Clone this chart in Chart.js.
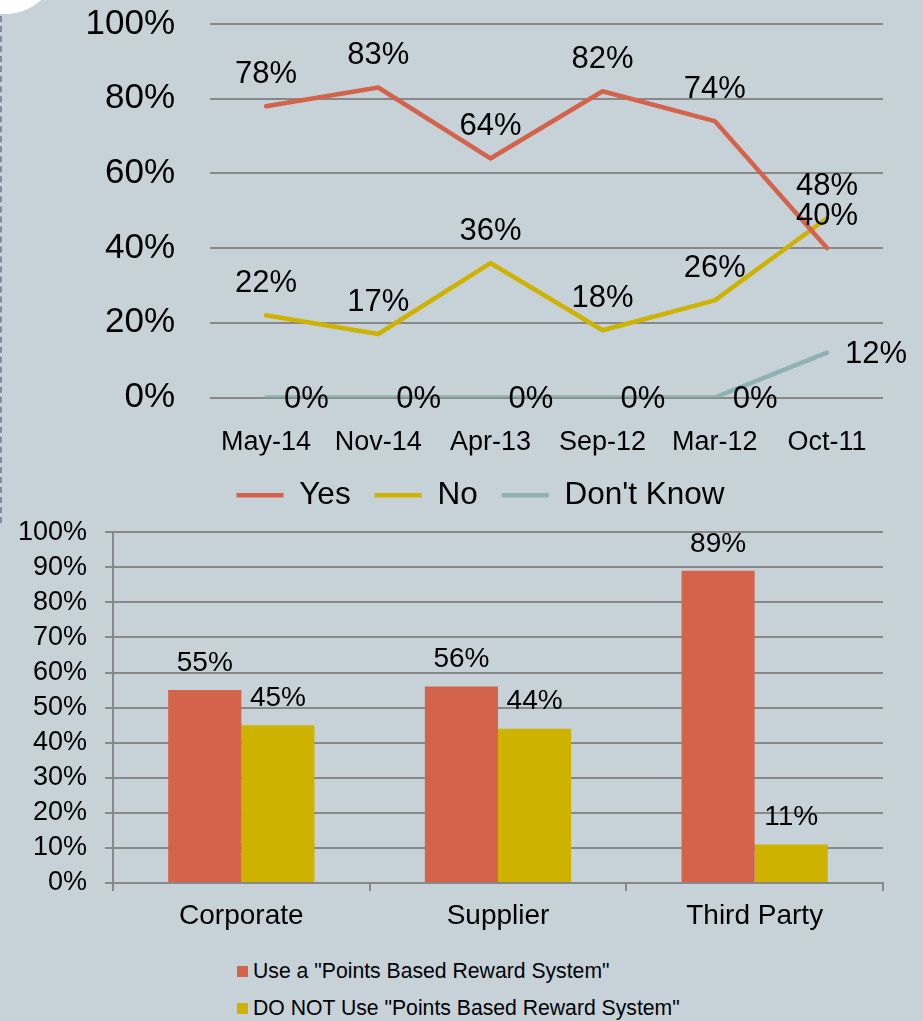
<!DOCTYPE html>
<html>
<head>
<meta charset="utf-8">
<title>Points Based Reward Systems</title>
<script src="https://cdn.jsdelivr.net/npm/chart.js@4.4.1/dist/chart.umd.min.js"></script>
<style>
  html, body { margin: 0; padding: 0; background: #c6d2d8; }
  body { width: 923px; height: 1021px; position: relative; overflow: hidden;
         font-family: "Liberation Sans", Arial, sans-serif; }
  #corner { position: absolute; left: -49px; top: -94px; width: 108px; height: 108px;
            border-radius: 50%; background: #fff; }
  #edge { position: absolute; left: 0; top: 16px; height: 507px; border-left: 2px dashed #7f8aa8; }
  #trendBox { position: absolute; left: 0; top: 0; width: 923px; height: 521px; }
  #usageBox { position: absolute; left: 0; top: 498px; width: 923px; height: 447px; }
  #usageLegend { position: absolute; left: 237px; top: 958px; font-size: 21.2px; color: #000; }
  #usageLegend .item { display: flex; align-items: center; height: 26px; margin-bottom: 11px; white-space: nowrap; }
  #usageLegend .swatch { width: 11px; height: 11px; margin-right: 5px; flex: none; }
</style>
</head>
<body>
<div id="corner"></div>
<div id="edge"></div>
<div id="trendBox"><canvas id="trend"></canvas></div>
<div id="usageBox"><canvas id="usage"></canvas></div>
<div id="usageLegend"></div>

<script>
// Survey waves, newest first
const surveyDates = ['May-14', 'Nov-14', 'Apr-13', 'Sep-12', 'Mar-12', 'Oct-11'];
const yesShare = [78, 83, 64, 82, 74, 40];
const noShare = [22, 17, 36, 18, 26, 48];
const unsureShare = [0, 0, 0, 0, 0, 12];
const trendTicks = [0, 20, 40, 60, 80, 100];

// Reward programme types
const programTypes = ['Corporate', 'Supplier', 'Third Party'];
const pointsUsers = [55, 56, 89];
const pointsNonUsers = [45, 44, 11];
const usageTicks = [0, 10, 20, 30, 40, 50, 60, 70, 80, 90, 100];

const RED = '#d3634a';
const GOLD = '#cdb300';
const TEAL = '#8fb1b1';
const GRID = '#888888';
const FONT = '"Liberation Sans", Arial, sans-serif';

Chart.defaults.font.family = FONT;
Chart.defaults.color = '#000';

// Writes each value as "NN%" next to its point or bar
const valueLabels = {
  id: 'valueLabels',
  afterDatasetsDraw(chart, args, opts) {
    const ctx = chart.ctx;
    ctx.save();
    ctx.font = opts.size + 'px ' + FONT;
    ctx.fillStyle = '#000';
    ctx.textBaseline = 'middle';
    chart.data.datasets.forEach((ds, i) => {
      const meta = chart.getDatasetMeta(i);
      if (meta.hidden) return;
      meta.data.forEach((el, j) => {
        const p = el.getProps(['x', 'y'], true);
        const text = ds.data[j] + '%';
        if (ds.labelSide === 'right') {
          ctx.textAlign = 'left';
          ctx.fillText(text, p.x + opts.sideGap, p.y + opts.sideDrop);
        } else {
          ctx.textAlign = 'center';
          ctx.fillText(text, p.x, p.y - opts.lift);
        }
      });
    });
    ctx.restore();
  }
};

const pct = v => v + '%';

function lineSeries(label, values, color, side) {
  return {
    label: label, data: values, labelSide: side,
    borderColor: color, backgroundColor: color,
    borderWidth: 4.5, pointRadius: 0, pointHoverRadius: 0, tension: 0,
    borderCapStyle: 'round', borderJoinStyle: 'round'
  };
}

new Chart(document.getElementById('trend'), {
  type: 'line',
  data: {
    labels: surveyDates,
    datasets: [
      lineSeries('Yes', yesShare, RED, 'top'),
      lineSeries('No', noShare, GOLD, 'top'),
      lineSeries("Don't Know", unsureShare, TEAL, 'right')
    ]
  },
  plugins: [valueLabels],
  options: {
    responsive: true, maintainAspectRatio: false, animation: false,
    layout: { padding: { left: 78, right: 40, top: 24, bottom: 0 } },
    scales: {
      x: {
        offset: true,
        grid: { display: false },
        border: { display: false },
        ticks: { font: { size: 27 }, padding: 21, maxRotation: 0, autoSkip: false },
        afterFit(s) { s.height = 58; }
      },
      y: {
        min: 0, max: 100,
        afterBuildTicks(s) { s.ticks = trendTicks.map(v => ({ value: v })); },
        // invisible tick marks keep the labels clear of the plot
        grid: { color: GRID, lineWidth: 2, drawTicks: true, tickLength: 35, tickColor: 'rgba(0,0,0,0)' },
        border: { display: false },
        ticks: { font: { size: 35 }, padding: 0, callback: pct, autoSkip: false },
        afterFit(s) { s.width = 132; }
      }
    },
    plugins: {
      legend: {
        position: 'bottom',
        labels: {
          usePointStyle: true, pointStyle: 'line', pointStyleWidth: 47,
          font: { size: 31.5 }, padding: 24, color: '#000'
        }
      },
      tooltip: { enabled: false },
      valueLabels: { size: 31, lift: 32, sideGap: 18, sideDrop: 2 }
    }
  }
});

const usageChart = new Chart(document.getElementById('usage'), {
  type: 'bar',
  data: {
    labels: programTypes,
    datasets: [
      { label: 'Use a "Points Based Reward System"', data: pointsUsers, backgroundColor: RED },
      { label: 'DO NOT Use "Points Based Reward System"', data: pointsNonUsers, backgroundColor: GOLD }
    ]
  },
  plugins: [valueLabels],
  options: {
    responsive: true, maintainAspectRatio: false, animation: false,
    categoryPercentage: 0.57, barPercentage: 1,
    layout: { padding: { left: 0, right: 40, top: 0, bottom: 0 } },
    scales: {
      x: {
        grid: { drawOnChartArea: false, color: GRID, lineWidth: 2, tickLength: 8, offset: true },
        border: { color: GRID, width: 2 },
        ticks: { font: { size: 28 }, padding: 8, maxRotation: 0 },
        afterFit(s) { s.height = 62; }
      },
      y: {
        min: 0, max: 100,
        afterBuildTicks(s) { s.ticks = usageTicks.map(v => ({ value: v })); },
        grid: { color: GRID, lineWidth: 2, tickLength: 8 },
        border: { color: GRID, width: 2 },
        ticks: { font: { size: 27 }, padding: 18, callback: pct, autoSkip: false },
        afterFit(s) { s.width = 113; }
      }
    },
    plugins: {
      legend: { display: false },
      tooltip: { enabled: false },
      valueLabels: { size: 28, lift: 27, sideGap: 0, sideDrop: 0 }
    }
  }
});

// Stacked legend under the bar chart, built from its datasets
const legendEl = document.getElementById('usageLegend');
usageChart.data.datasets.forEach(ds => {
  const row = document.createElement('div');
  row.className = 'item';
  const sw = document.createElement('span');
  sw.className = 'swatch';
  sw.style.background = ds.backgroundColor;
  const txt = document.createElement('span');
  txt.textContent = ds.label;
  row.appendChild(sw);
  row.appendChild(txt);
  legendEl.appendChild(row);
});
</script>
</body>
</html>
